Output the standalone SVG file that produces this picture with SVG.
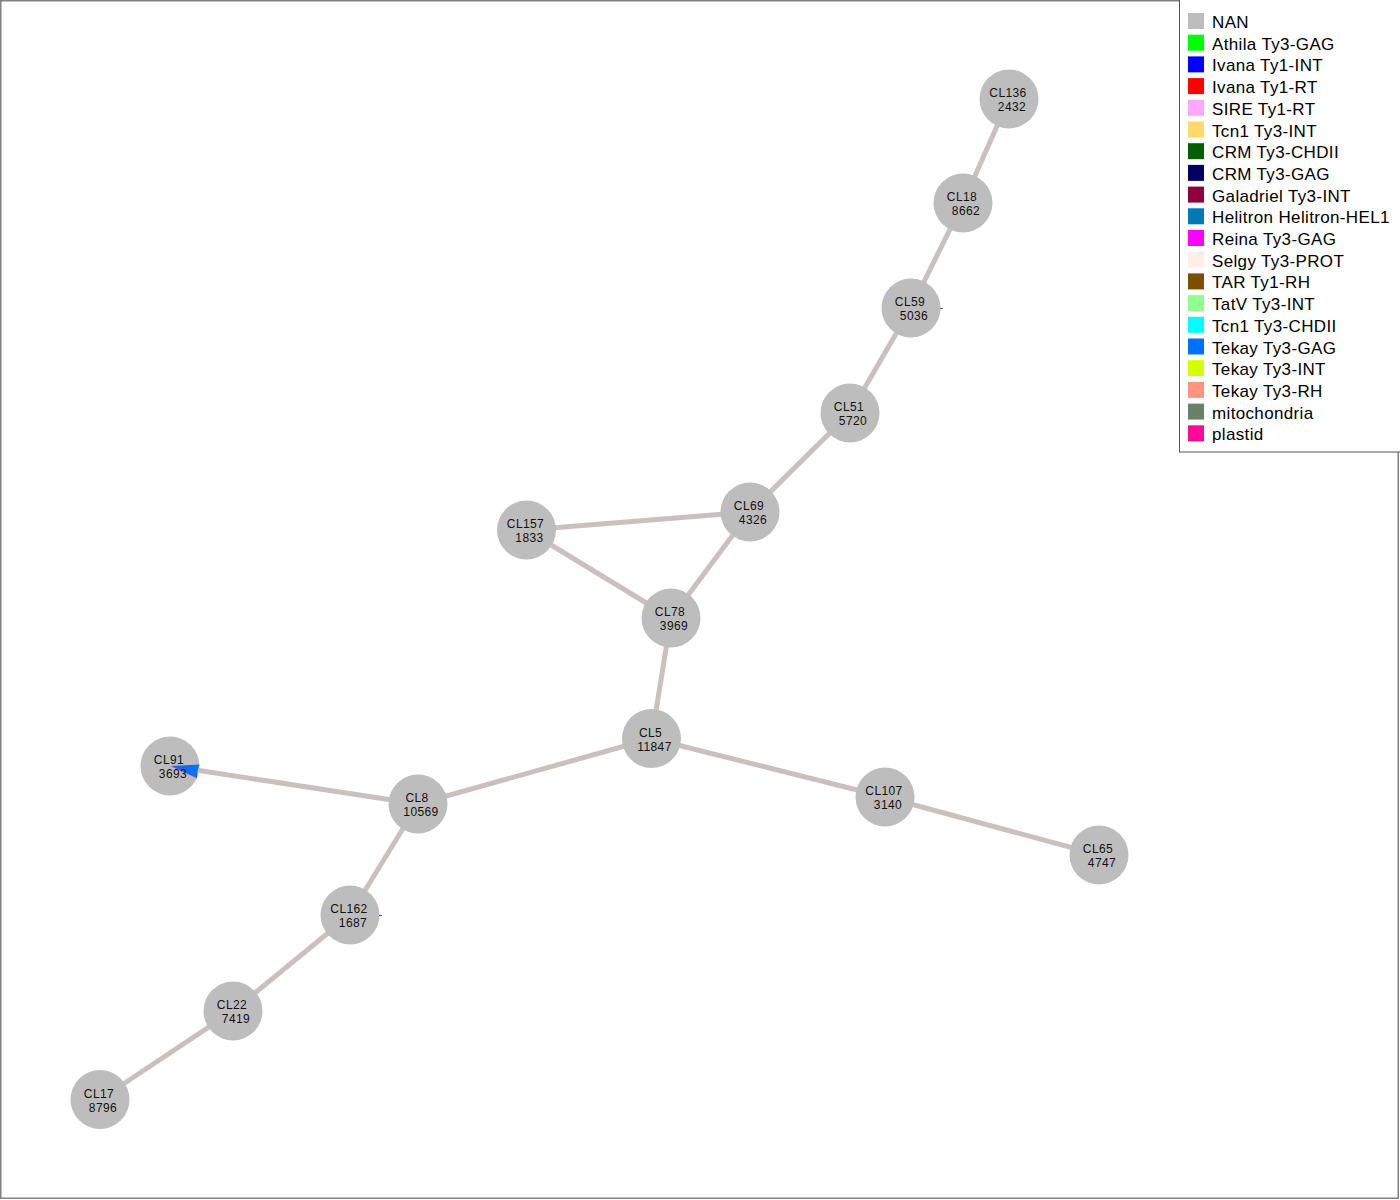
<svg xmlns="http://www.w3.org/2000/svg" width="1400" height="1200" viewBox="0 0 1400 1200">
<style>
.edge{stroke:#cbc0c0;stroke-width:5;fill:none}
.node circle{fill:#bdbdbd}
.node text{font-family:"Liberation Sans",Arial,sans-serif;font-size:12px;fill:#111;text-anchor:middle;letter-spacing:0.4px}
.lg text{font-family:"Liberation Sans",Arial,sans-serif;font-size:17px;fill:#000;letter-spacing:0.35px}
</style>
<rect x="0" y="0" width="1400" height="1200" fill="#fff"/>
<rect x="0.75" y="0.75" width="1397.5" height="1197.5" fill="none" stroke="#808080" stroke-width="1.5"/>
<g id="connectors">
<line class="edge" x1="1009" y1="99" x2="963" y2="203"/>
<line class="edge" x1="963" y1="203" x2="911" y2="308"/>
<line class="edge" x1="911" y1="308" x2="850" y2="413"/>
<line class="edge" x1="850" y1="413" x2="750" y2="512"/>
<line class="edge" x1="750" y1="512" x2="526.5" y2="530"/>
<line class="edge" x1="750" y1="512" x2="671" y2="618"/>
<line class="edge" x1="526.5" y1="530" x2="671" y2="618"/>
<line class="edge" x1="671" y1="618" x2="651.5" y2="738.5"/>
<line class="edge" x1="651.5" y1="738.5" x2="418" y2="804"/>
<line class="edge" x1="651.5" y1="738.5" x2="885" y2="797"/>
<line class="edge" x1="885" y1="797" x2="1099" y2="855"/>
<line class="edge" x1="418" y1="804" x2="170" y2="766"/>
<line class="edge" x1="418" y1="804" x2="350" y2="915"/>
<line class="edge" x1="350" y1="915" x2="233" y2="1011"/>
<line class="edge" x1="233" y1="1011" x2="100" y2="1099.5"/>
</g>
<g id="CL136" class="node"><circle cx="1009" cy="99" r="29.5"/><text x="1008" y="97">CL136</text><text x="1012" y="111">2432</text></g>
<g id="CL18" class="node"><circle cx="963" cy="203" r="29.5"/><text x="962" y="201">CL18</text><text x="966" y="215">8662</text></g>
<g id="CL59" class="node"><circle cx="911" cy="308" r="29.5"/><line x1="940" y1="308.5" x2="943" y2="308.5" stroke="#5f6f5f" stroke-width="1"/><text x="910" y="306">CL59</text><text x="914" y="320">5036</text></g>
<g id="CL51" class="node"><circle cx="850" cy="413" r="29.5"/><text x="849" y="411">CL51</text><text x="853" y="425">5720</text></g>
<g id="CL69" class="node"><circle cx="750" cy="512" r="29.5"/><text x="749" y="510">CL69</text><text x="753" y="524">4326</text></g>
<g id="CL157" class="node"><circle cx="526.5" cy="530" r="29.5"/><text x="525.5" y="528">CL157</text><text x="529.5" y="542">1833</text></g>
<g id="CL78" class="node"><circle cx="671" cy="618" r="29.5"/><text x="670" y="616">CL78</text><text x="674" y="630">3969</text></g>
<g id="CL5" class="node"><circle cx="651.5" cy="738.5" r="29.5"/><text x="650.5" y="736.5">CL5</text><text x="654.5" y="750.5">11847</text></g>
<g id="CL91" class="node"><circle cx="170" cy="766" r="29.5"/><path d="M171 766 L199.4 764.4 A29.5 29.5 0 0 0 197 778 Z" fill="#0070ff"/><line x1="171" y1="766" x2="197" y2="778" stroke="#ff0a9a" stroke-width="0.5"/><text x="169" y="764">CL91</text><text x="173" y="778">3693</text></g>
<g id="CL8" class="node"><circle cx="418" cy="804" r="29.5"/><text x="417" y="802">CL8</text><text x="421" y="816">10569</text></g>
<g id="CL107" class="node"><circle cx="885" cy="797" r="29.5"/><text x="884" y="795">CL107</text><text x="888" y="809">3140</text></g>
<g id="CL65" class="node"><circle cx="1099" cy="855" r="29.5"/><text x="1098" y="853">CL65</text><text x="1102" y="867">4747</text></g>
<g id="CL162" class="node"><circle cx="350" cy="915" r="29.5"/><line x1="379" y1="915.5" x2="382" y2="915.5" stroke="#7b4e00" stroke-width="1"/><text x="349" y="913">CL162</text><text x="353" y="927">1687</text></g>
<g id="CL22" class="node"><circle cx="233" cy="1011" r="29.5"/><text x="232" y="1009">CL22</text><text x="236" y="1023">7419</text></g>
<g id="CL17" class="node"><circle cx="100" cy="1099.5" r="29.5"/><text x="99" y="1097.5">CL17</text><text x="103" y="1111.5">8796</text></g>
<g id="legend" class="lg">
<rect x="1179.5" y="-1" width="221" height="453" fill="#fff" stroke="#555" stroke-width="1"/>
<rect x="1188" y="13" width="16" height="16" fill="#bdbdbd"/><text x="1212" y="28">NAN</text>
<rect x="1188" y="34.7" width="16" height="16" fill="#00ff00"/><text x="1212" y="49.7">Athila Ty3-GAG</text>
<rect x="1188" y="56.4" width="16" height="16" fill="#0000ff"/><text x="1212" y="71.4">Ivana Ty1-INT</text>
<rect x="1188" y="78.1" width="16" height="16" fill="#ff0000"/><text x="1212" y="93.1">Ivana Ty1-RT</text>
<rect x="1188" y="99.8" width="16" height="16" fill="#ffa8ff"/><text x="1212" y="114.8">SIRE Ty1-RT</text>
<rect x="1188" y="121.5" width="16" height="16" fill="#ffd96a"/><text x="1212" y="136.5">Tcn1 Ty3-INT</text>
<rect x="1188" y="143.2" width="16" height="16" fill="#005f00"/><text x="1212" y="158.2">CRM Ty3-CHDII</text>
<rect x="1188" y="164.9" width="16" height="16" fill="#00005f"/><text x="1212" y="179.9">CRM Ty3-GAG</text>
<rect x="1188" y="186.6" width="16" height="16" fill="#8f003e"/><text x="1212" y="201.6">Galadriel Ty3-INT</text>
<rect x="1188" y="208.3" width="16" height="16" fill="#0079b4"/><text x="1212" y="223.3">Helitron Helitron-HEL1</text>
<rect x="1188" y="230" width="16" height="16" fill="#ff00ff"/><text x="1212" y="245">Reina Ty3-GAG</text>
<rect x="1188" y="251.7" width="16" height="16" fill="#fdeee8"/><text x="1212" y="266.7">Selgy Ty3-PROT</text>
<rect x="1188" y="273.4" width="16" height="16" fill="#7b4e00"/><text x="1212" y="288.4">TAR Ty1-RH</text>
<rect x="1188" y="295.1" width="16" height="16" fill="#90ff90"/><text x="1212" y="310.1">TatV Ty3-INT</text>
<rect x="1188" y="316.8" width="16" height="16" fill="#00ffff"/><text x="1212" y="331.8">Tcn1 Ty3-CHDII</text>
<rect x="1188" y="338.5" width="16" height="16" fill="#0070ff"/><text x="1212" y="353.5">Tekay Ty3-GAG</text>
<rect x="1188" y="360.2" width="16" height="16" fill="#d4ff00"/><text x="1212" y="375.2">Tekay Ty3-INT</text>
<rect x="1188" y="381.9" width="16" height="16" fill="#ff9580"/><text x="1212" y="396.9">Tekay Ty3-RH</text>
<rect x="1188" y="403.6" width="16" height="16" fill="#6a806a"/><text x="1212" y="418.6">mitochondria</text>
<rect x="1188" y="425.3" width="16" height="16" fill="#ff0a9a"/><text x="1212" y="440.3">plastid</text>
</g>
</svg>
